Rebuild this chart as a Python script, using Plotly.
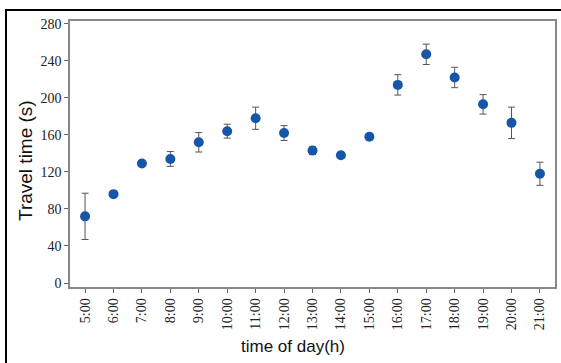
import plotly.graph_objects as go

hours = ["5:00", "6:00", "7:00", "8:00", "9:00", "10:00", "11:00", "12:00", "13:00",
         "14:00", "15:00", "16:00", "17:00", "18:00", "19:00", "20:00", "21:00"]
travel_time = [72, 96, 129, 134, 152, 164, 178, 162, 143, 138, 158, 214, 247, 222, 193, 173, 118]
error = [25, 0, 0, 8, 10.5, 7.5, 12, 8, 4, 3, 3, 11, 11, 11, 10.5, 17, 12.5]
y_ticks = [0, 40, 80, 120, 160, 200, 240, 280]

fig = go.Figure()
fig.add_trace(go.Scatter(
    x=hours, y=travel_time, mode="markers",
    marker=dict(color="#1557a6", size=10),
    error_y=dict(type="data", array=error, visible=True, color="#555555", thickness=1, width=3.5),
    showlegend=False,
))

W, H = 561, 363
ml, mr, mt, mb = 70, 6, 21, 76
pw, ph = W - ml - mr, H - mt - mb

def px_x(x):
    return (x - ml) / pw

def px_y(y):
    return (H - mb - y) / ph

fig.update_layout(
    width=W, height=H,
    margin=dict(l=ml, r=mr, t=mt, b=mb, autoexpand=False),
    paper_bgcolor="white", plot_bgcolor="white",
    xaxis=dict(
        type="category", range=[-0.53, 16.53], automargin=False,
        tickangle=-90, ticks="outside", ticklen=4, tickcolor="#666666",
        showline=True, linecolor="#888888", linewidth=1.5, mirror=True,
        showgrid=False, zeroline=False,
        tickfont=dict(family="Liberation Serif", size=14, color="#222222"),
    ),
    yaxis=dict(
        range=[-4.3, 283], tickvals=y_ticks, automargin=False,
        ticks="outside", ticklen=4, tickcolor="#666666",
        showline=True, linecolor="#888888", linewidth=1.5, mirror=True,
        showgrid=False, zeroline=False,
        tickfont=dict(family="Liberation Serif", size=14, color="#222222"),
    ),
    annotations=[
        dict(text="time of day(h)", xref="paper", yref="paper", x=px_x(293), y=px_y(347),
             showarrow=False, xanchor="center", yanchor="middle",
             font=dict(family="Liberation Sans", size=17, color="#111111")),
        dict(text="Travel time (s)", xref="paper", yref="paper", x=px_x(25), y=px_y(161),
             showarrow=False, xanchor="center", yanchor="middle", textangle=-90,
             font=dict(family="Liberation Sans", size=19, color="#111111")),
    ],
    shapes=[dict(
        type="rect", xref="paper", yref="paper",
        x0=px_x(6), x1=px_x(W + 4),
        y0=px_y(H + 4), y1=px_y(10),
        line=dict(color="black", width=2), layer="below",
    )],
)

fig.write_html("out.html", config={"displayModeBar": False},
               post_script="document.body.style.margin='0';")
